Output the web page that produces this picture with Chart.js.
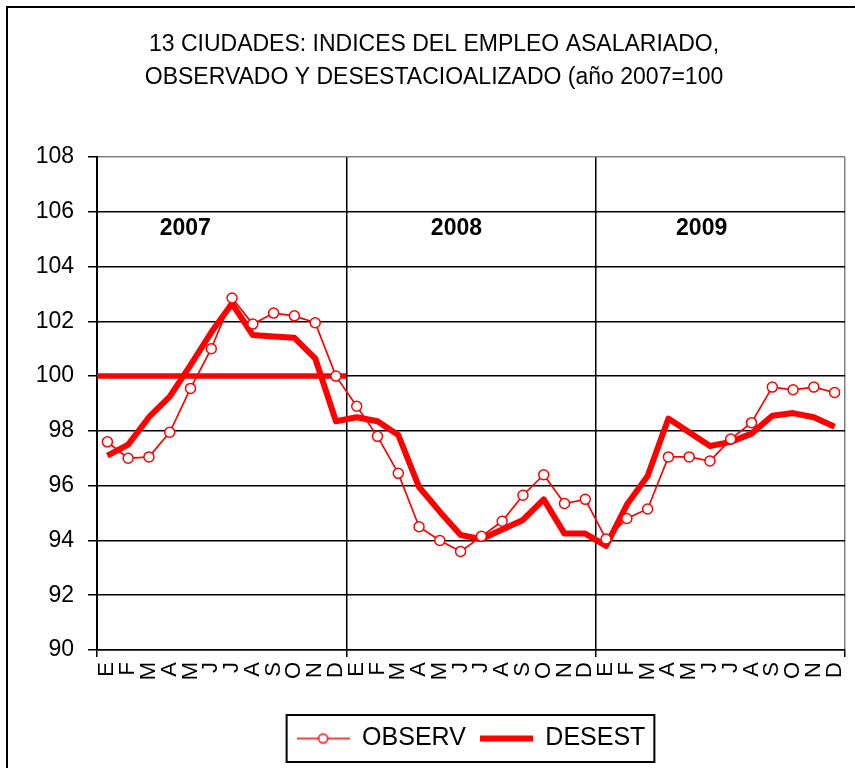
<!DOCTYPE html>
<html>
<head>
<meta charset="utf-8">
<script src="https://cdn.jsdelivr.net/npm/chart.js@4/dist/chart.umd.min.js"></script>
<style>
  html, body { margin: 0; padding: 0; background: #fff; }
  #wrap { width: 855px; height: 768px; }
</style>
</head>
<body>
<div id="wrap"><canvas id="chart" width="855" height="768"></canvas></div>
<script>
// month letters per year, three years
const monthLetters = ['E', 'F', 'M', 'A', 'M', 'J', 'J', 'A', 'S', 'O', 'N', 'D'];
const categories = monthLetters.concat(monthLetters, monthLetters);

const observ = [97.6, 97.0, 97.05, 97.95, 99.55, 101.0, 102.85, 101.9, 102.3, 102.2, 101.95, 100.0,
                98.9, 97.8, 96.45, 94.5, 94.0, 93.6, 94.15, 94.7, 95.65, 96.4, 95.35, 95.5,
                94.05, 94.8, 95.15, 97.05, 97.05, 96.9, 97.7, 98.3, 99.6, 99.5, 99.6, 99.4];

const desest = [97.1, 97.5, 98.5, 99.25, 100.4, 101.6, 102.65, 101.5, 101.45, 101.4, 100.65, 98.35,
                98.5, 98.35, 97.85, 95.95, 95.05, 94.2, 94.05, 94.4, 94.75, 95.5, 94.25, 94.25,
                93.8, 95.3, 96.35, 98.45, 97.95, 97.45, 97.6, 97.9, 98.55, 98.65, 98.5, 98.15];

// base line (2007 = 100), on a month-position axis 0..36
const baseX = [0, 12];
const baseY = [100, 100];

const yearLabels = ['2007', '2008', '2009'];
const yearLabelX = [4.25, 17.3, 29.1];
const yearLabelY = 105.4;

const yTicks = [90, 92, 94, 96, 98, 100, 102, 104, 106, 108];

const FONT = '"Liberation Sans", Arial, sans-serif';
const RED = '#ff0000';

function sampleCanvas(kind) {
    const c = document.createElement('canvas');
    c.width = 53;
    c.height = 14;
    const g = c.getContext('2d');
    g.strokeStyle = RED;
    if (kind === 'observ') {
        g.lineWidth = 1.7;
        g.beginPath(); g.moveTo(0, 7); g.lineTo(53, 7); g.stroke();
        g.fillStyle = '#fff';
        g.lineWidth = 1.5;
        g.beginPath(); g.arc(26.5, 7, 4.5, 0, Math.PI * 2); g.fill(); g.stroke();
    } else {
        g.lineWidth = 6;
        g.beginPath(); g.moveTo(0, 7); g.lineTo(53, 7); g.stroke();
    }
    return c;
}

const framePlugin = {
    id: 'frame',
    beforeDraw(chart) {
        const ctx = chart.ctx;
        ctx.save();
        ctx.fillStyle = '#fff';
        ctx.fillRect(0, 0, chart.width, chart.height);
        ctx.strokeStyle = '#000';
        ctx.lineWidth = 2;
        ctx.strokeRect(7, 7, chart.width + 20, chart.height + 20);
        ctx.restore();
    },
    afterDraw(chart) {
        const ctx = chart.ctx;
        const hb = chart.legend.legendHitBoxes;
        if (hb && hb.length) {
            const last = hb[hb.length - 1];
            const left = hb[0].left - 10;
            const right = last.left + last.width + 9;
            const top = hb[0].top - 11;
            const bottom = hb[0].top + hb[0].height + 11;
            ctx.save();
            ctx.strokeStyle = '#000';
            ctx.lineWidth = 2;
            ctx.strokeRect(left, top, right - left, bottom - top);
            ctx.restore();
        }
        // year labels
        const xs = chart.scales.x2, ys = chart.scales.y;
        ctx.save();
        ctx.fillStyle = '#000';
        ctx.font = 'bold 23px ' + FONT;
        ctx.textAlign = 'center';
        ctx.textBaseline = 'middle';
        yearLabels.forEach((t, i) => {
            ctx.fillText(t, xs.getPixelForValue(yearLabelX[i]), ys.getPixelForValue(yearLabelY));
        });
        ctx.restore();
    }
};

const ctx = document.getElementById('chart').getContext('2d');
new Chart(ctx, {
    type: 'line',
    data: {
        labels: categories,
        datasets: [
            {
                label: 'OBSERV',
                data: observ,
                xAxisID: 'x',
                borderColor: RED,
                borderWidth: 1.7,
                pointRadius: 5,
                pointBorderWidth: 1.5,
                pointBackgroundColor: '#fff',
                pointBorderColor: RED,
                tension: 0,
                fill: false
            },
            {
                label: 'DESEST',
                data: desest,
                xAxisID: 'x',
                borderColor: RED,
                borderWidth: 6,
                borderJoinStyle: 'round',
                pointRadius: 0,
                tension: 0,
                fill: false
            },
            {
                label: 'base',
                data: baseX.map((x, i) => ({ x: x, y: baseY[i] })),
                xAxisID: 'x2',
                borderColor: RED,
                borderWidth: 5.5,
                borderCapStyle: 'butt',
                pointRadius: 0,
                fill: false
            }
        ]
    },
    options: {
        responsive: false,
        animation: false,
        layout: { padding: { left: 13, right: 0, top: 0, bottom: 7 } },
        plugins: {
            title: {
                display: true,
                text: ['13 CIUDADES: INDICES DEL EMPLEO ASALARIADO,', 'OBSERVADO Y DESESTACIOALIZADO (año 2007=100'],
                color: '#000',
                font: { family: FONT, size: 23, weight: 'normal', lineHeight: 33 / 23 },
                padding: { top: 28, bottom: 63 }
            },
            legend: {
                position: 'bottom',
                fullSize: false,
                labels: {
                    color: '#000',
                    font: { family: FONT, size: 25 },
                    usePointStyle: true,
                    pointStyleWidth: 53,
                    padding: 14,
                    generateLabels: () => [
                        { text: 'OBSERV', pointStyle: sampleCanvas('observ'), fontColor: '#000', datasetIndex: 0 },
                        { text: 'DESEST', pointStyle: sampleCanvas('desest'), fontColor: '#000', datasetIndex: 1 }
                    ]
                }
            },
            tooltip: { enabled: false }
        },
        scales: {
            x: {
                type: 'category',
                offset: true,
                afterFit: (s) => { s.height = 62; s.paddingRight = 10; },
                grid: {
                    offset: true,
                    drawOnChartArea: true,
                    tickLength: 7,
                    lineWidth: 1.5,
                    color: (c) => {
                        if (c.index === undefined) return '#808080';
                        return c.index % 12 === 0 ? '#000' : 'rgba(0,0,0,0)';
                    },
                    tickColor: (c) => {
                        if (c.index === undefined) return '#000';
                        return c.index % 12 === 0 ? '#000' : 'rgba(0,0,0,0)';
                    }
                },
                border: { color: '#000', width: 1.5 },
                ticks: {
                    color: '#000',
                    font: { family: FONT, size: 22 },
                    autoSkip: false,
                    minRotation: 90,
                    maxRotation: 90,
                    padding: 5
                }
            },
            x2: {
                type: 'linear',
                display: false,
                min: 0,
                max: 36
            },
            y: {
                min: 90,
                max: 108,
                afterFit: (s) => { s.width = 84; },
                afterBuildTicks: (s) => { s.ticks = yTicks.map(v => ({ value: v })); },
                grid: {
                    lineWidth: 1.5,
                    tickLength: 9,
                    color: (c) => (c.tick && c.tick.value === 108) ? '#808080' : '#000',
                    tickColor: '#000'
                },
                border: { color: '#000', width: 2 },
                ticks: {
                    color: '#000',
                    font: { family: FONT, size: 23 },
                    padding: 14
                }
            }
        }
    },
    plugins: [framePlugin]
});
</script>
</body>
</html>
